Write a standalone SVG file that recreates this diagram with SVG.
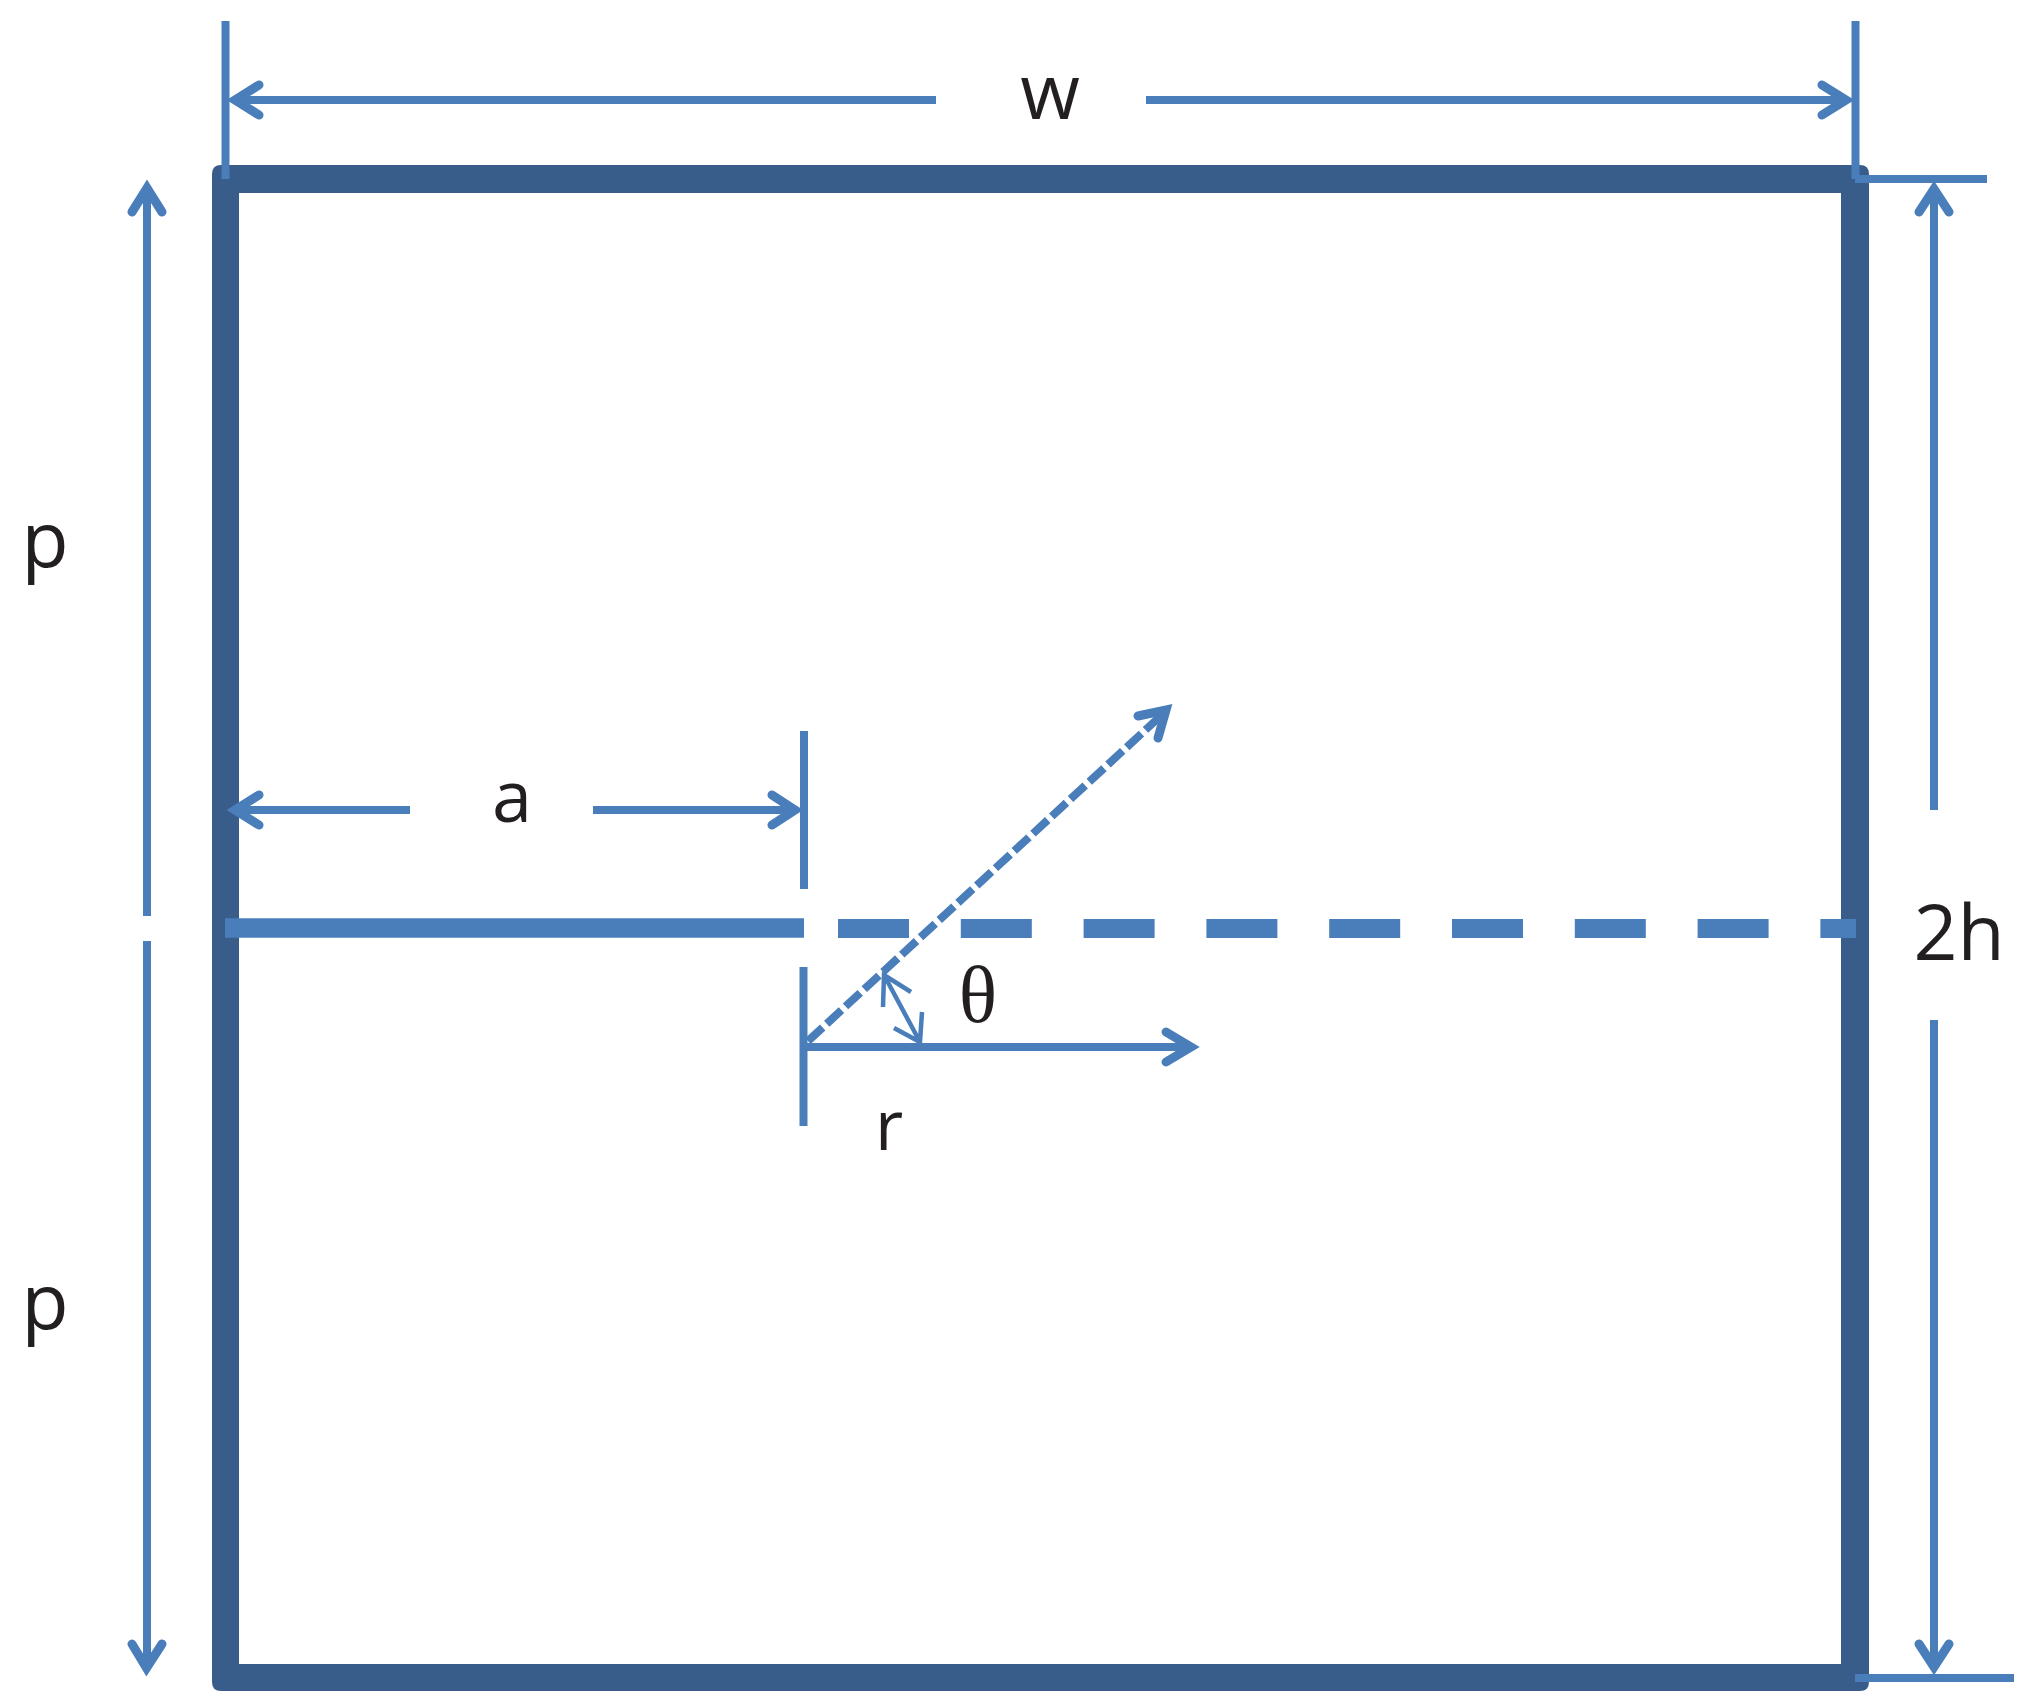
<svg xmlns="http://www.w3.org/2000/svg" width="2041" height="1708" viewBox="0 0 2041 1708">
<style>
.l{fill:none;stroke:#4a7ebb;stroke-width:8}
.h{fill:none;stroke:#4a7ebb;stroke-width:9;stroke-linecap:round;stroke-linejoin:miter}
.t{fill:#231f20;font-family:"Open Sans","Noto Sans",sans-serif;font-size:77px;text-anchor:middle}
</style>
<rect width="2041" height="1708" fill="#fff"/>
<g id="frame"><path fill="#385d8a" fill-rule="evenodd" d="M221 165H1860Q1869 165 1869 174V1682Q1869 1691 1860 1691H221Q212 1691 212 1682V174Q212 165 221 165ZM239 193V1664H1841V193Z"/></g>
<g id="connectors">
<path class="l" d="M225.500 21V179M1855.500 21V179M804 731V889M803.500 967V1126M1855 179H1987M1855 1678H2014"/>
<path class="l" d="M236 100H936M1146 100H1846"/><path class="h" d="M259 85L235 100L259 115M1822 85L1846 100L1822 115"/>
<path class="l" d="M147 190V916M147 941V1668"/><path class="h" d="M132 212L147 188L162 212M132 1644L146.500 1668L162 1644"/>
<path class="l" d="M1934 190V810M1934 1020V1668"/><path class="h" d="M1919 212L1934 189L1949 212M1919 1644L1934 1667L1949 1644"/>
<path class="l" d="M236 810H410M593 810H794"/><path class="h" d="M259 795L235 810L259 825M772 795L795 810L772 825"/>
<path fill="none" stroke="#4a7ebb" stroke-width="19.500" d="M225 928H804"/>
<path fill="none" stroke="#4a7ebb" stroke-width="19" stroke-dasharray="71 51.800" d="M838 928.500H1856"/>
<path class="l" d="M804 1047H1190"/><path class="h" d="M1166 1032L1191 1047L1166 1062"/>
<path fill="none" stroke="#4a7ebb" stroke-width="8" stroke-dasharray="20 5.500" d="M808 1041L1166 711"/>
<path class="h" d="M1138 716L1166 710L1158 738"/>
<path fill="none" stroke="#4a7ebb" stroke-width="4.500" d="M883 1007L884 975L911 992M884 975L920 1042M922 1012L920 1042L894 1028"/>
</g>
<g id="label-w"><text class="t" x="1050" y="119">w</text></g>
<g id="label-p1"><text class="t" x="45" y="567">p</text></g>
<g id="label-p2"><text class="t" x="45" y="1329">p</text></g>
<g id="label-2h"><text class="t" x="1959" y="960">2h</text></g>
<g id="label-a"><text class="t" x="512" y="822" style="font-size:72px">a</text></g>
<g id="label-r"><text class="t" x="889" y="1150" style="font-size:69px">r</text></g>
<g id="label-theta"><text class="t" x="978" y="1022" style="font-size:80px;font-family:'Liberation Serif',serif">θ</text></g>
</svg>
